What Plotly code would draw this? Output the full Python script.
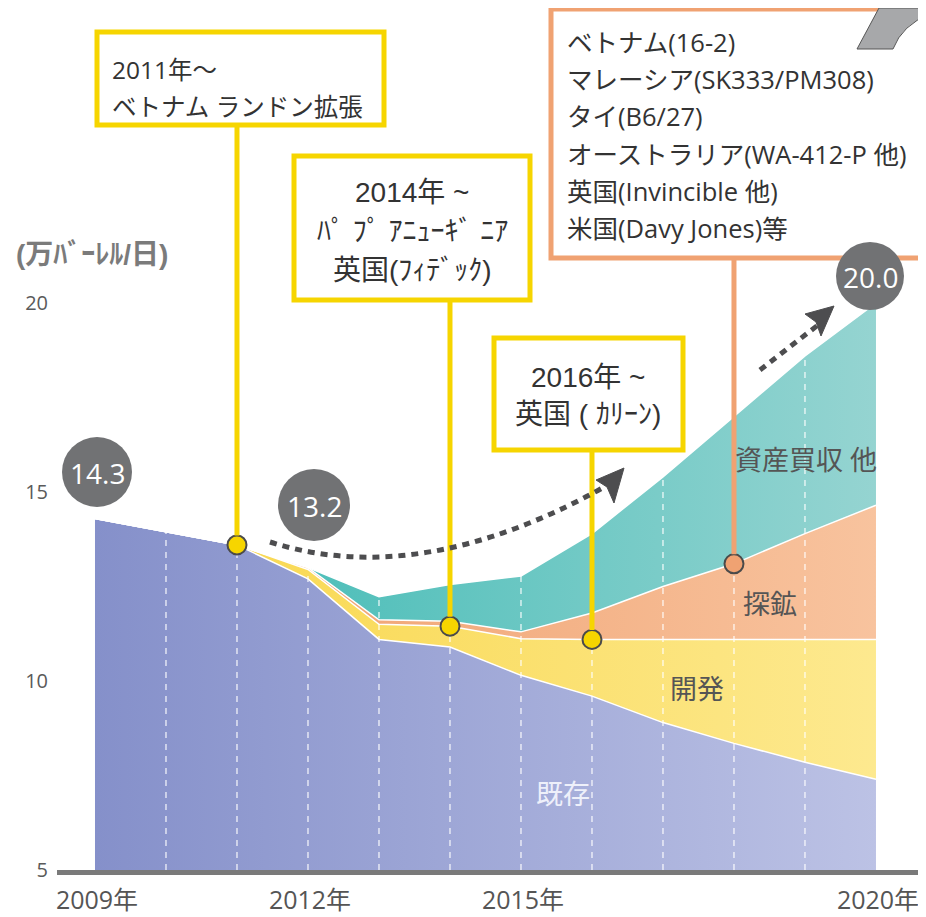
import plotly.graph_objects as go
import numpy as np

# ---------------- data ----------------
years = [2009, 2010, 2011, 2012, 2013, 2014, 2015, 2016, 2017, 2018, 2019, 2020]
existing = [14.3, 13.95, 13.6, 12.7, 11.1, 10.9, 10.15, 9.6, 8.9, 8.35, 7.85, 7.4]      # 既存
development = [0, 0, 0, 0.25, 0.4, 0.55, 0.97, 1.5, 2.2, 2.75, 3.25, 3.7]               # 開発
exploration = [0, 0, 0, 0.05, 0.12, 0.13, 0.18, 0.7, 1.4, 2.0, 2.8, 3.55]              # 探鉱
acquisition = [0, 0, 0, 0, 0.61, 0.97, 1.48, 2.1, 2.9, 3.9, 4.7, 5.35]                 # 資産買収 他
series_names = ["既存", "開発", "探鉱", "資産買収 他"]
bubble_labels = ["14.3", "13.2", "20.0"]
xtick_vals = [2009, 2012, 2015, 2020]
xtick_text = ["2009年", "2012年", "2015年", "2020年"]
ytick_vals = [5, 10, 15, 20]
ytick_text = ["5", "10", "15", "20"]

# cumulative tops
c1 = np.array(existing)
c2 = c1 + np.array(development)
c3 = c2 + np.array(exploration)
c4 = c3 + np.array(acquisition)

# ---------------- geometry (reference-pixel helpers) ----------------
W, H = 926, 917          # window
OFF = 8                  # page body margin
FW, FH = W - OFF, H - OFF
BASE_PX = 870            # baseline (y = 5) in window pixels
LEFT_PX = 57             # plot left edge in window pixels
ML = LEFT_PX - OFF
MB = FH - (BASE_PX - OFF)
X0, PXY = 2008.465, 71.0
Y0, PXU = 5.0, 37.8
XMAX = X0 + (W - LEFT_PX) / PXY
YMAX = Y0 + (BASE_PX - OFF) / PXU


def X(px):
    return X0 + (px - LEFT_PX) / PXY


def Y(py):
    return Y0 + (BASE_PX - py) / PXU


JP = "Open Sans, Noto Sans CJK JP, sans-serif"
JP2 = "Liberation Sans, Noto Sans CJK JP, sans-serif"
TXT = "#333333"
YELLOW = "#f6d500"
ORANGE = "#f0a272"
GRAY = "#717274"

fig = go.Figure()

# ---------------- stacked areas ----------------
fills = [
    (c1, "tozeroy", ["#8590ca", "#bcc2e5"]),
    (c2, "tonexty", ["#f8d546", "#fde98f"]),
    (c3, "tonexty", ["#ee9a66", "#f8c39e"]),
    (c4, "tonexty", ["#35b7b1", "#95d4d1"]),
]
for (vals, fmode, cols), name in zip(fills, series_names):
    fig.add_trace(go.Scatter(
        x=years, y=vals, mode="lines", fill=fmode, name=name,
        line=dict(color="white", width=1.5),
        fillgradient=dict(type="horizontal", colorscale=[[0, cols[0]], [1, cols[1]]]),
        hoverinfo="skip", showlegend=False,
    ))

# dashed white year lines inside the area
vx, vy = [], []
for yr, top in zip(years[1:-1], c4[1:-1]):
    vx += [yr, yr, None]
    vy += [Y0, top, None]
fig.add_trace(go.Scatter(x=vx, y=vy, mode="lines",
                         line=dict(color="rgba(255,255,255,0.75)", width=1.5, dash="6px,6px"),
                         hoverinfo="skip", showlegend=False))

shapes = []
annotations = []


def box(x0, y0, x1, y1, color):
    shapes.append(dict(type="rect", xref="x", yref="y", x0=X(x0), x1=X(x1), y0=Y(y1), y1=Y(y0),
                       line=dict(color=color, width=5), fillcolor="white", layer="above"))


def text(px, py, s, size, family=JP, color=TXT, xanchor="left"):
    annotations.append(dict(x=X(px), y=Y(py), xref="x", yref="y", text=s, showarrow=False,
                            xanchor=xanchor, yanchor="middle",
                            font=dict(family=family, size=size, color=color)))


# marker positions (from data)
i2011, i2014, i2016, i2018 = years.index(2011), years.index(2014), years.index(2016), years.index(2018)
markers = [
    (2011, c1[i2011], YELLOW, 125),
    (2014, c2[i2014], YELLOW, 300),
    (2016, c2[i2016], YELLOW, 450),
    (2018, c3[i2018], ORANGE, 258),
]
r_units = 9.5 / PXU
for mx, my, col, box_bottom in markers:
    shapes.append(dict(type="line", xref="x", yref="y", x0=mx, x1=mx, y0=Y(box_bottom), y1=my + r_units,
                       line=dict(color=col, width=5), layer="above"))

# ---------------- callout boxes ----------------
box(97, 32, 384, 125, YELLOW)
text(110, 69, "2011年～", 24.5)
text(110, 106, "ベトナム ランドン拡張", 24.5)

box(294, 156, 530, 300, YELLOW)
text(412, 192, "2014年 ~", 28, JP2, xanchor="center")
text(412, 231, "ﾊﾟ ﾌﾟ ｱﾆｭｰｷﾞ ﾆｱ", 28, JP2, xanchor="center")
text(412, 270, "英国(ﾌｨﾃﾞｯｸ)", 28, JP2, xanchor="center")

box(494, 338, 683, 450, YELLOW)
text(588, 377, "2016年 ~", 28, JP2, xanchor="center")
text(588, 414, "英国 ( ｶﾘｰﾝ)", 28, JP2, xanchor="center")

box(551, 9, 945, 258, ORANGE)
orange_lines = ["ベトナム(16-2)", "マレーシア(SK333/PM308)", "タイ(B6/27)",
                "オーストラリア(WA-412-P 他)", "英国(Invincible 他)", "米国(Davy Jones)等"]
for k, s in enumerate(orange_lines):
    text(565, 42 + k * 37.2, s, 25.5)

# ---------------- marker circles ----------------
fig.add_trace(go.Scatter(
    x=[m[0] for m in markers], y=[m[1] for m in markers], mode="markers",
    marker=dict(size=19, color=[m[2] for m in markers], line=dict(color="#4a4a4a", width=2)),
    hoverinfo="skip", showlegend=False))

# ---------------- bubbles ----------------
bubbles = [(97, 472, 35), (314, 505, 36), (870, 276, 34)]
for (bx, by, br), lab in zip(bubbles, bubble_labels):
    shapes.append(dict(type="circle", xref="x", yref="y", x0=X(bx - br), x1=X(bx + br),
                       y0=Y(by + br), y1=Y(by - br), fillcolor=GRAY, line=dict(width=0), layer="above"))
    text(bx, by + 1, lab, 28, JP, "white", xanchor="center")


# ---------------- dotted arrows ----------------
def P(px, py):
    return f"{X(px):.4f},{Y(py):.4f}"


shapes.append(dict(type="path", xref="x", yref="y",
                   path=f"M {P(270, 542)} Q {P(420, 590)} {P(606, 486)}",
                   line=dict(color="#4d4d4f", width=5, dash="7px,6px"), layer="above"))
shapes.append(dict(type="path", xref="x", yref="y",
                   path=f"M {P(624, 468)} L {P(596, 480)} L {P(607, 487)} L {P(614, 503)} Z",
                   fillcolor="#4d4d4f", line=dict(color="#4d4d4f", width=1), layer="above"))
shapes.append(dict(type="path", xref="x", yref="y",
                   path=f"M {P(760, 370)} L {P(818, 325)}",
                   line=dict(color="#4d4d4f", width=5, dash="7px,6px"), layer="above"))
shapes.append(dict(type="path", xref="x", yref="y",
                   path=f"M {P(834, 306)} L {P(805, 314)} L {P(816, 322)} L {P(821, 336)} Z",
                   fillcolor="#4d4d4f", line=dict(color="#4d4d4f", width=1), layer="above"))

# gray ribbon at top right
shapes.append(dict(type="path", xref="x", yref="y",
                   path=f"M {P(857, 49)} L {P(879, 8)} L {P(930, 8)} L {P(930, 14)} "
                        f"Q {P(902, 25)} {P(893, 49)} Z",
                   fillcolor="#a7a8aa", line=dict(color="#555", width=1), layer="above"))

# ---------------- area labels ----------------
text(563, 793, "既存", 27, JP, "#eef0fa", xanchor="center")
text(697, 688, "開発", 27, JP, "#555555", xanchor="center")
text(770, 603, "探鉱", 27, JP, "#555555", xanchor="center")
text(806, 459, "資産買収 他", 27, JP, "#555555", xanchor="center")

# y-axis unit title
annotations.append(dict(x=(14 - LEFT_PX) / (W - LEFT_PX), y=(BASE_PX - 255) / (BASE_PX - OFF),
                        xref="paper", yref="paper",
                        text="<b>(万ﾊﾞｰﾚﾙ/日)</b>", showarrow=False, xanchor="left", yanchor="middle",
                        font=dict(family=JP2, size=28, color="#7b7b7b")))

fig.update_layout(
    width=FW, height=FH,
    margin=dict(l=ML, r=0, t=0, b=MB, autoexpand=False),
    paper_bgcolor="white", plot_bgcolor="white",
    shapes=shapes, annotations=annotations,
    showlegend=False,
    xaxis=dict(range=[X0, XMAX], tickvals=xtick_vals, ticktext=xtick_text,
               showgrid=False, zeroline=False, showline=True, linecolor="#7a7a7a", linewidth=5,
               ticks="", ticklabelstandoff=4, ticklabelshift=2, automargin=False,
               tickfont=dict(family=JP, size=25, color="#555555")),
    yaxis=dict(range=[Y0, YMAX], tickvals=ytick_vals, ticktext=ytick_text,
               showgrid=False, zeroline=False, showline=False, ticks="", ticklabelstandoff=8,
               automargin=False,
               tickfont=dict(family=JP, size=20, color="#5a5a5a")),
)

fig.write_html("out.html")
